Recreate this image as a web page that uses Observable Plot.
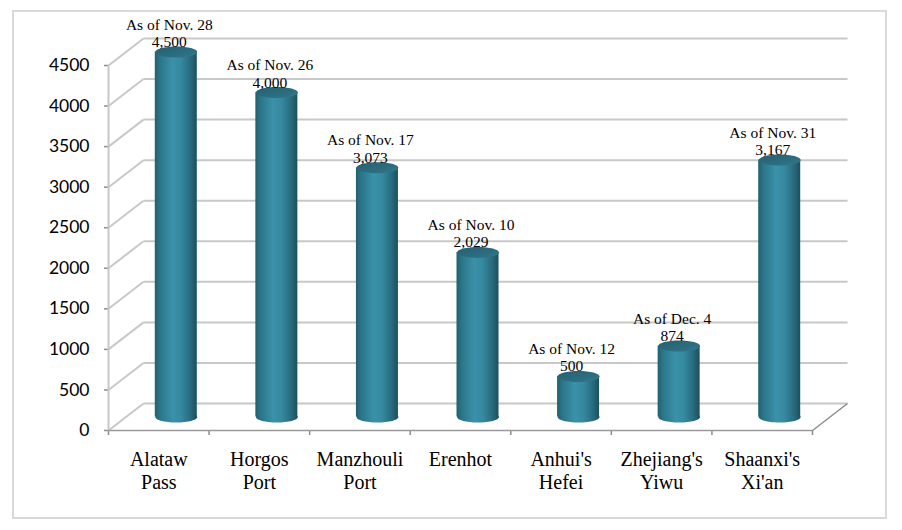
<!DOCTYPE html>
<html>
<head>
<meta charset="utf-8">
<script src="https://cdn.jsdelivr.net/npm/d3@7"></script>
<script src="https://cdn.jsdelivr.net/npm/@observablehq/plot@0.6"></script>
<style>
  html, body { margin: 0; padding: 0; background: #fff; }
  #wrap { position: relative; width: 902px; height: 530px; overflow: hidden; }
  #wrap svg { position: absolute; left: 0; top: 0; }
  #frame { position: absolute; left: 12px; top: 10px; width: 875px; height: 509px; box-sizing: border-box; border: 2px solid #d9d9d9; pointer-events: none; }
  [aria-label$="tick"] path { stroke: #8c8c8c; stroke-width: 1.5; }
  [aria-label="y-axis tick label"] text, [aria-label="y-axis tick label"] { fill: #000; }
</style>
</head>
<body>
<div id="wrap"><div id="frame"></div></div>
<script>
// ---- data ----
const categories = ["Alataw\nPass", "Horgos\nPort", "Manzhouli\nPort", "Erenhot", "Anhui's\nHefei", "Zhejiang's\nYiwu", "Shaanxi's\nXi'an"];
const values = [4500, 4000, 3073, 2029, 500, 874, 3167];
const dates = ["As of Nov. 28", "As of Nov. 26", "As of Nov. 17", "As of Nov. 10", "As of Nov. 12", "As of Dec. 4", "As of Nov. 31"];
const yTicks = [0, 500, 1000, 1500, 2000, 2500, 3000, 3500, 4000, 4500];

// ---- layout ----
const W = 902, H = 530;
const mL = 108, mR = 90, mT = 65, mB = 100;
const n = categories.length;
const yMax = 4500;
const pxPerX = (W - mL - mR) / n;
const pxPerY = (H - mT - mB) / yMax;
const depthPxX = 35, depthPxY = 27;          // 3D depth of the back wall (pixels)
const dxU = depthPxX / pxPerX, dyU = depthPxY / pxPerY;
const cylHalfU = 21 / pxPerX;
const fmt = d3.format(",");

const rows = categories.map((c, i) => ({i, c, v: values[i], date: dates[i]}));

const ellipse = (rx, ry) => ({
  draw(ctx) {
    const k = 0.5523, kx = rx * k, ky = ry * k;
    ctx.moveTo(-rx, 0);
    ctx.bezierCurveTo(-rx, -ky, -kx, -ry, 0, -ry);
    ctx.bezierCurveTo(kx, -ry, rx, -ky, rx, 0);
    ctx.bezierCurveTo(rx, ky, kx, ry, 0, ry);
    ctx.bezierCurveTo(-kx, ry, -rx, ky, -rx, 0);
    ctx.closePath();
  }
});

const gridColor = "#c8c8c8";
const cdx = depthPxX / 2, cdy = -depthPxY / 2;

const plot = Plot.plot({
  width: W, height: H,
  marginLeft: mL, marginRight: mR, marginTop: mT, marginBottom: mB,
  style: {background: "transparent", fontFamily: "Lato, Liberation Sans, Arial, sans-serif", fontSize: "17.5px", color: "#000", overflow: "visible"},
  x: {type: "linear", domain: [0, n], ticks: d3.range(n + 1), tickFormat: () => "", tickSize: 5, label: null},
  y: {domain: [0, yMax], ticks: yTicks, tickSize: 4, tickPadding: 15, tickFormat: d => String(d), label: null},
  marks: [
    // back wall gridlines
    Plot.link(yTicks, {x1: dxU, x2: n + dxU, y1: d => d + dyU, y2: d => d + dyU, stroke: gridColor, strokeWidth: 2}),
    // side wall diagonals
    Plot.link(yTicks, {x1: 0, x2: dxU, y1: d => d, y2: d => d + dyU, stroke: gridColor, strokeWidth: 2}),
    // front y axis line
    Plot.link([0], {x1: 0, x2: 0, y1: 0, y2: yMax, stroke: gridColor, strokeWidth: 2}),
    // floor: right diagonal and front edge
    Plot.link([0], {x1: n, x2: n + dxU, y1: 0, y2: dyU, stroke: "#8c8c8c", strokeWidth: 1.5}),
    Plot.link([0], {x1: 0, x2: n, y1: 0, y2: 0, stroke: "#9a9a9a", strokeWidth: 1.5}),
    // cylinders: bottom cap, body, top cap
    Plot.dot(rows, {x: d => d.i + 0.5, y: 0, r: 5, symbol: ellipse(21, 5.5), fill: "url(#cylBody)", dx: cdx, dy: cdy}),
    Plot.rect(rows, {x1: d => d.i + 0.5 - cylHalfU, x2: d => d.i + 0.5 + cylHalfU, y1: 0, y2: d => d.v, fill: "url(#cylBody)", dx: cdx, dy: cdy}),
    Plot.dot(rows, {x: d => d.i + 0.5, y: d => d.v, r: 5, symbol: ellipse(21, 5.5), fill: "url(#cylTop)", dx: cdx, dy: cdy}),
    // data labels
    Plot.text(rows, {x: d => d.i + 0.5, y: d => d.v, text: d => d.date + "\n" + fmt(d.v), lineAnchor: "bottom", lineHeight: 1.13,
      fontFamily: "Liberation Serif, Times New Roman, serif", fontSize: 15.5, fill: "#000", dx: 10.5, dy: cdy - 5}),
    // category labels
    Plot.text(rows, {x: d => d.i + 0.5, y: 0, text: d => d.c, lineAnchor: "top", lineHeight: 1.12,
      fontFamily: "Liberation Serif, Times New Roman, serif", fontSize: 20, fill: "#000", dy: 20})
  ]
});

const defs = d3.select(plot).insert("defs", ":first-child");
const g1 = defs.append("linearGradient").attr("id", "cylBody").attr("x1", 0).attr("x2", 1).attr("y1", 0).attr("y2", 0);
[[0, "#22606f"], [0.12, "#2b7588"], [0.42, "#3a91a9"], [0.62, "#3589a0"], [0.85, "#276b7d"], [1, "#1c4f5e"]]
  .forEach(([o, c]) => g1.append("stop").attr("offset", o).attr("stop-color", c));
const g2 = defs.append("linearGradient").attr("id", "cylTop").attr("x1", 0).attr("x2", 1).attr("y1", 0).attr("y2", 1);
[[0, "#255f70"], [0.6, "#2b6d7f"], [1, "#34798c"]]
  .forEach(([o, c]) => g2.append("stop").attr("offset", o).attr("stop-color", c));

document.getElementById("wrap").insertBefore(plot, document.getElementById("frame"));
</script>
</body>
</html>
